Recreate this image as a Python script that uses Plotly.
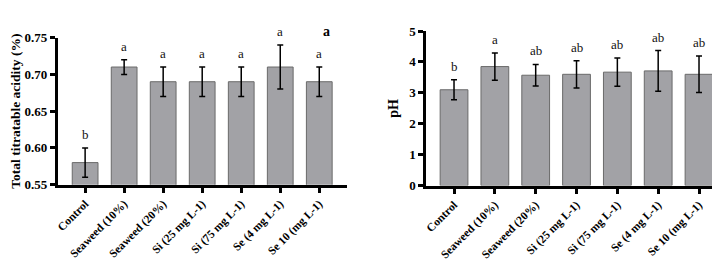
import plotly.graph_objects as go

categories = ["Control", "Seaweed (10%)", "Seaweed (20%)", "Si (25 mg L-1)",
              "Si (75 mg L-1)", "Se (4 mg L-1)", "Se 10 (mg L-1)"]
tta_values = [0.58, 0.71, 0.69, 0.69, 0.69, 0.71, 0.69]
tta_errors = [0.02, 0.01, 0.02, 0.02, 0.02, 0.03, 0.02]
tta_letters = ["b", "a", "a", "a", "a", "a", "a"]
ph_values = [3.10, 3.85, 3.57, 3.60, 3.67, 3.71, 3.60]
ph_errors = [0.32, 0.44, 0.35, 0.44, 0.46, 0.66, 0.59]
ph_letters = ["b", "a", "ab", "ab", "ab", "ab", "ab"]

FONT = "Liberation Serif"
W, H = 720, 261
bar_color = "#a2a2a6"
line_color = "#6a6a6a"

fig = go.Figure()
fig.add_trace(go.Bar(
    x=categories, y=tta_values, width=0.66,
    marker=dict(color=bar_color, line=dict(color=line_color, width=1)),
    error_y=dict(type="data", array=tta_errors, color="black", thickness=1.5, width=3),
    xaxis="x", yaxis="y", showlegend=False))
fig.add_trace(go.Bar(
    x=categories, y=ph_values, width=0.68,
    marker=dict(color=bar_color, line=dict(color=line_color, width=1)),
    error_y=dict(type="data", array=ph_errors, color="black", thickness=1.5, width=3),
    xaxis="x2", yaxis="y2", showlegend=False))

annotations = []
for c, v, e, t in zip(categories, tta_values, tta_errors, tta_letters):
    annotations.append(dict(x=c, y=v + e, xref="x", yref="y", text=t, showarrow=False,
                            yanchor="bottom", yshift=4,
                            font=dict(family=FONT, size=13, color="#111111")))
for c, v, e, t in zip(categories, ph_values, ph_errors, ph_letters):
    annotations.append(dict(x=c, y=v + e, xref="x2", yref="y2", text=t, showarrow=False,
                            yanchor="bottom", yshift=4,
                            font=dict(family=FONT, size=13, color="#111111")))
annotations.append(dict(x=317 / W, y=1 - 7 / H, xref="paper", yref="paper", text="<b>a</b>",
                        showarrow=False, font=dict(family=FONT, size=14, color="black")))
annotations.append(dict(x=715 / W, y=1 - 7 / H, xref="paper", yref="paper", text="<b>b</b>",
                        showarrow=False, font=dict(family=FONT, size=14, color="black")))

axis_common = dict(showline=True, linecolor="black", linewidth=3, ticks="outside",
                   ticklen=5, tickwidth=2.5, tickcolor="black", showgrid=False,
                   zeroline=False, mirror=False)
xtick_font = dict(family=FONT, size=11.5, color="black", weight="bold")
ytick_font = dict(family=FONT, size=13, color="black", weight="bold")

fig.update_layout(
    width=W, height=H, margin=dict(l=0, r=0, t=0, b=0),
    paper_bgcolor="white", plot_bgcolor="white", bargap=0.3,
    annotations=annotations,
    xaxis=dict(domain=[47 / W, 337 / W], range=[-0.7, 6.7], tickangle=-45,
               tickfont=xtick_font, anchor="y", **axis_common),
    yaxis=dict(domain=[(H - 180) / H, (H - 24) / H], range=[0.55, 0.75],
               tickvals=[0.55, 0.60, 0.65, 0.70, 0.75], ticktext=["0.55", "0.60", "0.65", "0.70", "0.75"],
               tickfont=ytick_font, anchor="x",
               title=dict(text="<b>Total titratable acidity (%)</b>", standoff=4,
                          font=dict(family=FONT, size=13.5, color="black")),
               **axis_common),
    xaxis2=dict(domain=[417 / W, 1.0], range=[-0.68, 6.71], tickangle=-45,
                tickfont=xtick_font, anchor="y2", **axis_common),
    yaxis2=dict(domain=[(H - 181) / H, (H - 17) / H], range=[0, 5],
                tickvals=[0, 1, 2, 3, 4, 5], tickfont=ytick_font, anchor="x2",
                title=dict(text="<b>pH</b>", standoff=8,
                           font=dict(family=FONT, size=14, color="black")),
                **axis_common),
)

fig.write_html("out.html")
